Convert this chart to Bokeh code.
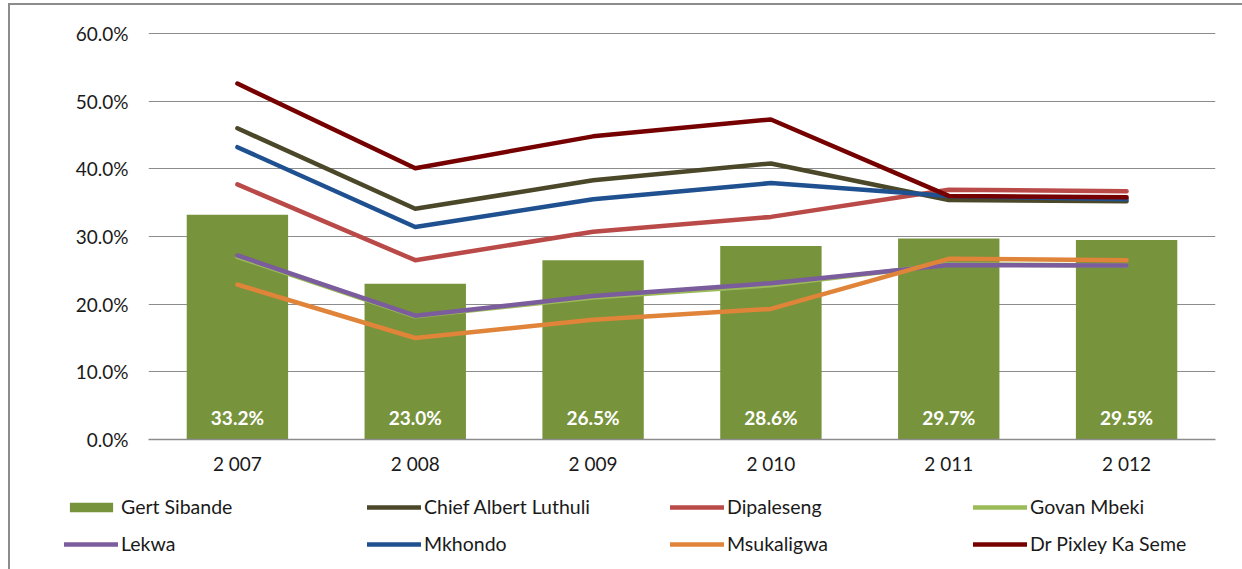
from bokeh.plotting import figure
from bokeh.layouts import column
from bokeh.models import ColumnDataSource, FactorRange, Range1d, NumeralTickFormatter, Legend, LegendItem, FixedTicker
from bokeh.core.properties import value
from bokeh.embed import file_html
from bokeh.resources import INLINE

years = ["2 007", "2 008", "2 009", "2 010", "2 011", "2 012"]
gert_sibande = [0.332, 0.230, 0.265, 0.286, 0.297, 0.295]
chief_albert_luthuli = [0.460, 0.341, 0.383, 0.408, 0.354, 0.352]
dipaleseng = [0.377, 0.265, 0.307, 0.329, 0.369, 0.367]
govan_mbeki = [0.270, 0.182, 0.210, 0.228, 0.259, 0.257]
lekwa = [0.272, 0.183, 0.212, 0.231, 0.258, 0.257]
mkhondo = [0.432, 0.314, 0.355, 0.379, 0.360, 0.355]
msukaligwa = [0.229, 0.150, 0.177, 0.193, 0.267, 0.265]
dr_pixley = [0.526, 0.401, 0.448, 0.473, 0.360, 0.358]
y_ticks = [0.0, 0.1, 0.2, 0.3, 0.4, 0.5, 0.6]

FONT = "Lato"
BAR_COLOR = "#77933c"
series = [
    ("Chief Albert Luthuli", chief_albert_luthuli, "#4b4729"),
    ("Dipaleseng", dipaleseng, "#b94a48"),
    ("Govan Mbeki", govan_mbeki, "#9bbb59"),
    ("Lekwa", lekwa, "#7b5c9c"),
    ("Mkhondo", mkhondo, "#1f5190"),
    ("Msukaligwa", msukaligwa, "#e0843a"),
    ("Dr Pixley Ka Seme", dr_pixley, "#760000"),
]
LW = 4.5

p = figure(x_range=FactorRange(*years, range_padding=0), y_range=Range1d(0, 0.6015),
           width=1232, height=472, output_backend="svg", toolbar_location=None,
           min_border_left=138, min_border_right=27, min_border_top=27, min_border_bottom=30)
p.frame_align = False
p.x_range.factor_padding = 0
p.outline_line_color = None
p.background_fill_color = "white"
p.border_fill_color = "white"

p.xgrid.grid_line_color = None
p.ygrid.grid_line_color = "#8c8c8c"
p.ygrid.grid_line_width = 1.2

p.yaxis.ticker = FixedTicker(ticks=y_ticks)
p.yaxis.formatter = NumeralTickFormatter(format="0.0%")
p.yaxis.axis_line_color = None
p.yaxis.major_tick_line_color = None
p.yaxis.minor_tick_line_color = None
p.yaxis.major_label_standoff = 14
p.xaxis.axis_line_color = "#8c8c8c"
p.xaxis.axis_line_width = 1.5
p.xaxis.major_tick_line_color = None
p.xaxis.minor_tick_line_color = None
p.xaxis.major_label_standoff = 6
for ax in (p.xaxis[0], p.yaxis[0]):
    ax.major_label_text_font = FONT
    ax.major_label_text_font_size = "19px"
    ax.major_label_text_color = "#1a1a1a"

src = ColumnDataSource(dict(
    x=years, gert=gert_sibande,
    lab=[f"{v*100:.1f}%" for v in gert_sibande],
    ly=[0.033] * len(years),
))
p.vbar(x="x", top="gert", width=0.57, source=src, fill_color=BAR_COLOR, line_color=None)
p.text(x="x", y="ly", text="lab", source=src, text_align="center", text_baseline="middle",
       text_color="white", text_font=value(FONT), text_font_style="bold", text_font_size="19px")

for name, vals, col in series:
    p.line(years, vals, line_color=col, line_width=LW, line_cap="round", line_join="round")

# legend panel: keys styled like the series above (their points lie outside this panel's view)
lg = figure(x_range=Range1d(0, 1), y_range=Range1d(0, 1), width=1232, height=92,
            output_backend="svg", toolbar_location=None,
            min_border_left=0, min_border_right=0, min_border_top=0, min_border_bottom=0)
lg.frame_align = False
lg.axis.visible = False
lg.grid.visible = False
lg.outline_line_color = None
lg.border_fill_color = "white"
rend = {"Gert Sibande": lg.vbar(x=[5], top=[5], bottom=[4], width=0.5,
                                fill_color=BAR_COLOR, line_color=None)}
for name, vals, col in series:
    rend[name] = lg.line(x=[5, 6], y=[5, 6], line_color=col, line_width=LW, line_cap="round")

order = ["Gert Sibande", "Chief Albert Luthuli", "Dipaleseng", "Govan Mbeki",
         "Lekwa", "Mkhondo", "Msukaligwa", "Dr Pixley Ka Seme"]
legend = Legend(items=[LegendItem(label=n, renderers=[rend[n]]) for n in order],
                location=(54, 14), orientation="horizontal", ncols=4,
                glyph_width=54, glyph_height=12, label_standoff=3, label_width=232,
                label_height=20, spacing=14, padding=0, margin=0,
                border_line_color=None, background_fill_alpha=0,
                label_text_font=FONT, label_text_font_size="19.5px", label_text_color="#1a1a1a")
lg.add_layout(legend, "center")

layout = column(p, lg, spacing=0,
                styles={"border-left": "2px solid #8c8c8c", "border-top": "2px solid #8c8c8c",
                        "margin-left": "8px", "margin-top": "3px"})

open("out.html", "w").write(file_html(layout, INLINE))
